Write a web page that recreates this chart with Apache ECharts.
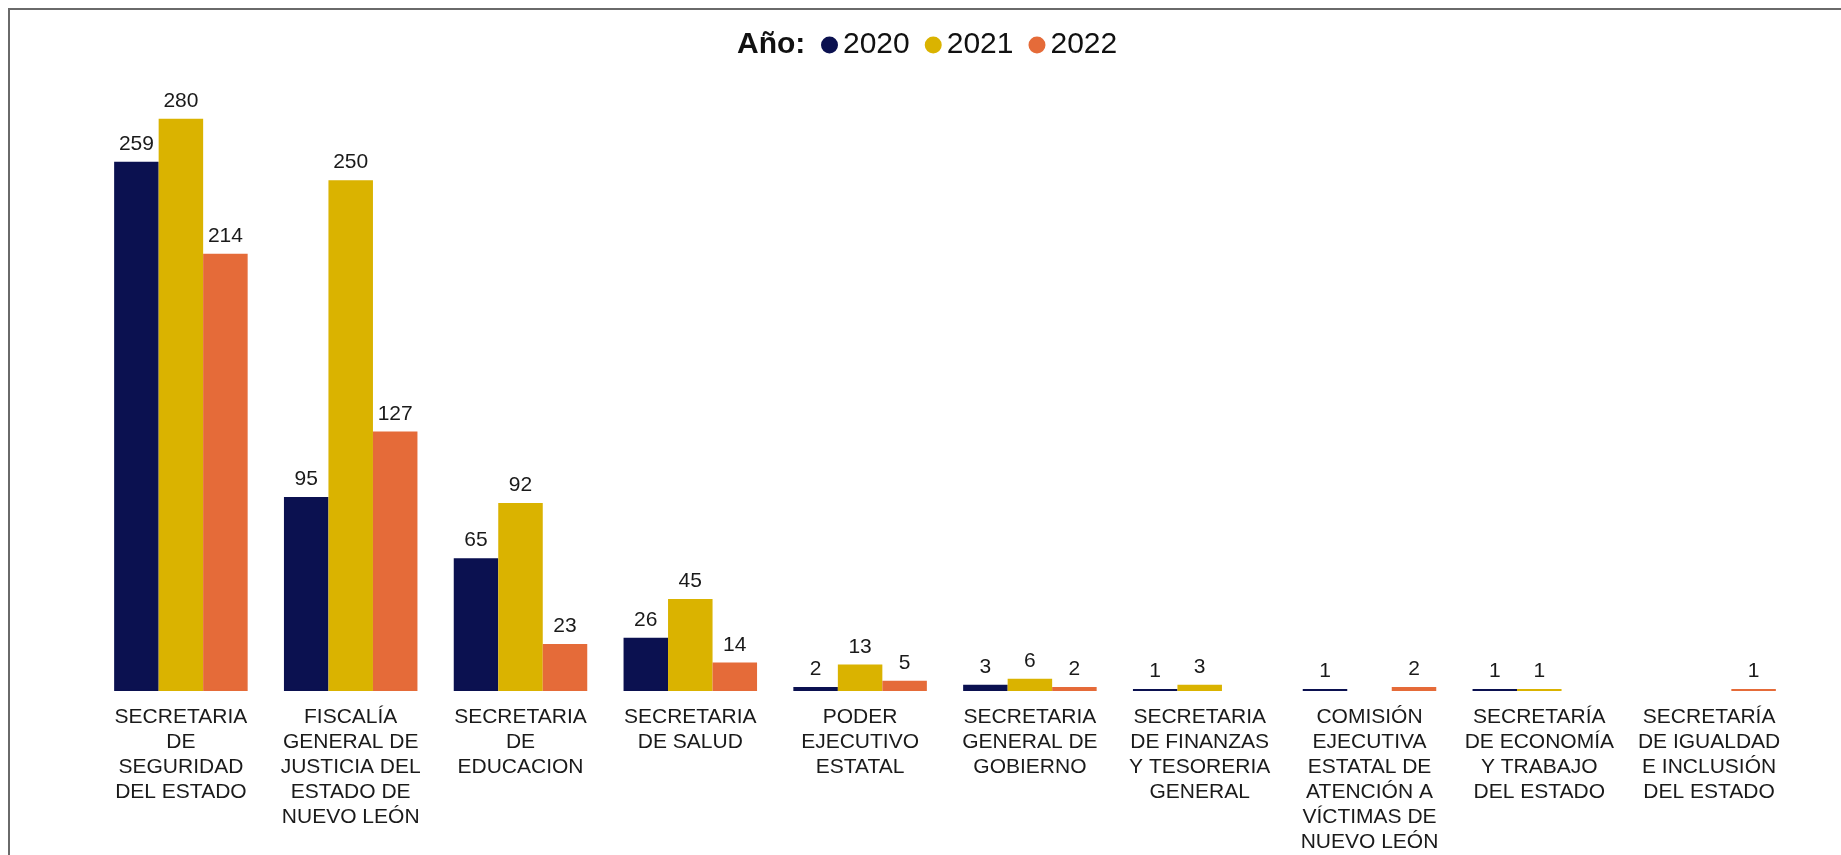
<!DOCTYPE html>
<html>
<head>
<meta charset="utf-8">
<script src="https://cdn.jsdelivr.net/npm/echarts@6/dist/echarts.min.js"></script>
<style>
html,body{margin:0;padding:0;background:#fff;}
#chart{width:1841px;height:855px;}
</style>
</head>
<body>
<div id="chart"></div>
<script>
const categories = [
  "SECRETARIA\nDE\nSEGURIDAD\nDEL ESTADO",
  "FISCALÍA\nGENERAL DE\nJUSTICIA DEL\nESTADO DE\nNUEVO LEÓN",
  "SECRETARIA\nDE\nEDUCACION",
  "SECRETARIA\nDE SALUD",
  "PODER\nEJECUTIVO\nESTATAL",
  "SECRETARIA\nGENERAL DE\nGOBIERNO",
  "SECRETARIA\nDE FINANZAS\nY TESORERIA\nGENERAL",
  "COMISIÓN\nEJECUTIVA\nESTATAL DE\nATENCIÓN A\nVÍCTIMAS DE\nNUEVO LEÓN",
  "SECRETARÍA\nDE ECONOMÍA\nY TRABAJO\nDEL ESTADO",
  "SECRETARÍA\nDE IGUALDAD\nE INCLUSIÓN\nDEL ESTADO"
];
const years = ["2020", "2021", "2022"];
const values2020 = [259, 95, 65, 26, 2, 3, 1, 1, 1, null];
const values2021 = [280, 250, 92, 45, 13, 6, 3, null, 1, null];
const values2022 = [214, 127, 23, 14, 5, 2, null, 2, null, 1];
const colors = ["#0b1150", "#dab300", "#e56b39"];

const FONT = "'Liberation Sans', Arial, sans-serif";
const chart = echarts.init(document.getElementById('chart'), null, {renderer: 'canvas'});

function mk(name, data, color) {
  return {
    name: name,
    type: 'bar',
    data: data,
    barWidth: 44.5,
    barGap: '0%',
    itemStyle: {color: color, borderColor: color, borderWidth: 1.5},
    label: {
      show: true,
      position: 'top',
      distance: 7,
      color: '#1a1a1a',
      fontFamily: FONT,
      fontSize: 21
    }
  };
}

chart.setOption({
  animation: false,
  backgroundColor: '#fff',
  color: colors,
  title: {
    text: 'Año:',
    left: 737,
    top: 30,
    padding: 0,
    textStyle: {fontFamily: FONT, fontWeight: 'bold', fontSize: 30, color: '#111'}
  },
  legend: {
    data: years,
    left: 821,
    top: 30,
    padding: 0,
    icon: 'circle',
    itemWidth: 15,
    itemHeight: 15,
    itemGap: 15,
    textStyle: {fontFamily: FONT, fontSize: 30, color: '#111', padding: [0, 0, 0, 1]}
  },
  graphic: [{
    type: 'rect',
    shape: {x: 9, y: 9, width: 2000, height: 1000},
    style: {fill: 'none', stroke: '#6a6a6a', lineWidth: 2},
    silent: true
  }],
  grid: {left: 96, right: 47, top: 78, bottom: 164, containLabel: false},
  xAxis: {
    type: 'category',
    data: categories,
    axisLine: {show: false},
    axisTick: {show: false},
    axisLabel: {
      interval: 0,
      margin: 14,
      fontFamily: FONT,
      fontSize: 21,
      lineHeight: 25,
      color: '#1a1a1a',
      align: 'center'
    }
  },
  yAxis: {
    type: 'value',
    min: 0,
    max: 300,
    show: false,
    splitLine: {show: false}
  },
  series: [
    mk(years[0], values2020, colors[0]),
    mk(years[1], values2021, colors[1]),
    mk(years[2], values2022, colors[2])
  ]
});
</script>
</body>
</html>
